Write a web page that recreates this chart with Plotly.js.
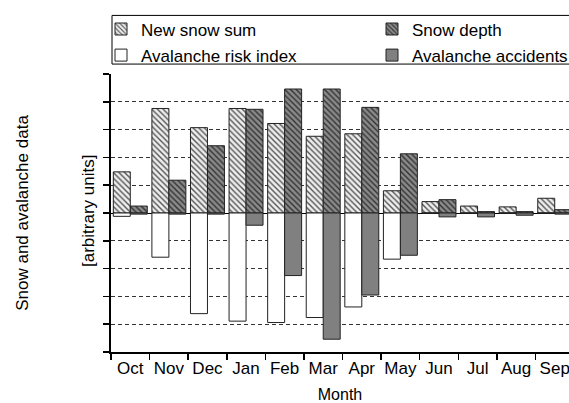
<!DOCTYPE html>
<html>
<head>
<meta charset="utf-8">
<script src="https://cdn.plot.ly/plotly-3.0.1.min.js"></script>
<style>html,body{margin:0;padding:0;background:#fff;overflow:hidden;width:569px;height:403px;}#chart{width:600px;height:403px;}</style>
</head>
<body>
<div id="chart"></div>
<script>
const months = ["Oct","Nov","Dec","Jan","Feb","Mar","Apr","May","Jun","Jul","Aug","Sep"];
const newSnowSum = [1.48, 3.76, 3.07, 3.76, 3.22, 2.76, 2.85, 0.80, 0.41, 0.25, 0.22, 0.53];
const snowDepth = [0.25, 1.18, 2.42, 3.73, 4.46, 4.46, 3.80, 2.13, 0.48, 0.05, 0.05, 0.12];
const riskIndex = [-0.12, -1.59, -3.62, -3.89, -3.94, -3.76, -3.38, -1.66, 0, 0, 0, 0];
const accidents = [-0.04, -0.04, -0.04, -0.44, -2.25, -4.54, -2.95, -1.52, -0.14, -0.14, -0.08, -0.04];
const yTicks = [-5,-4,-3,-2,-1,0,1,2,3,4,5];
const gridVals = [-4,-3,-2,-1,1,2,3,4];

const fam = "Liberation Sans, Arial, sans-serif";
const font = {family: fam, size: 17, color: "#000"};
const W = 0.44;
const line = {color: "#222", width: 1};

const traces = [
  {type: "bar", name: "New snow sum", x: months, y: newSnowSum, width: W, offset: -W,
   marker: {color: "#eeeeee", line: line, pattern: {shape: "\\", fgcolor: "#555", bgcolor: "#eeeeee", size: 4, solidity: 0.35}},
   legend: "legend", legendgroup: "a"},
  {type: "bar", name: "Avalanche risk index", x: months, y: riskIndex, width: W, offset: -W,
   marker: {color: "#ffffff", line: line},
   legend: "legend", legendgroup: "b"},
  {type: "bar", name: "Snow depth", x: months, y: snowDepth, width: W, offset: 0,
   marker: {color: "#8a8a8a", line: line, pattern: {shape: "\\", fgcolor: "#333", bgcolor: "#8a8a8a", size: 4, solidity: 0.35}},
   legend: "legend2", legendgroup: "c"},
  {type: "bar", name: "Avalanche accidents", x: months, y: accidents, width: W, offset: 0,
   marker: {color: "#808080", line: line},
   legend: "legend2", legendgroup: "d"}
];

const FW = 600, FH = 403;
const L = 111, R = FW - 569, T = 72, B = 51;
const pw = FW - L - R, ph = FH - T - B;
const px = v => (v - L) / pw;
const py = v => (FH - B - v) / ph;

const layout = {
  width: FW, height: FH,
  margin: {l: L, r: R, t: T, b: B},
  paper_bgcolor: "#fff", plot_bgcolor: "#fff",
  barmode: "overlay",
  font: font,
  showlegend: true,
  legend: {x: px(101), y: py(9), xanchor: "left", yanchor: "top", orientation: "v",
           traceorder: "grouped", tracegroupgap: 1, bgcolor: "rgba(0,0,0,0)", font: font},
  legend2: {x: px(372), y: py(9), xanchor: "left", yanchor: "top", orientation: "v",
           traceorder: "grouped", tracegroupgap: 1, bgcolor: "rgba(0,0,0,0)", font: font},
  xaxis: {type: "category", range: [-0.5, 11.37], tickson: "boundaries", ticks: "outside", ticklen: 6, tickwidth: 1.5,
          tickangle: 0, tickcolor: "#000", showline: true, linecolor: "#000", linewidth: 2, showgrid: false, zeroline: false,
          tickfont: font, title: {text: "Month", font: {family: fam, size: 16, color: "#000"}, standoff: 14}, fixedrange: true},
  yaxis: {range: [-5, 5], tickmode: "array", tickvals: yTicks, showticklabels: false, ticks: "outside", ticklen: 6,
          tickwidth: 1.5, tickcolor: "#000", showline: true, linecolor: "#000", linewidth: 2,
          showgrid: false, zeroline: true, zerolinecolor: "#000", zerolinewidth: 1,
          minor: {tickmode: "array", tickvals: gridVals, showgrid: true, gridcolor: "#333", griddash: "4px,3px", gridwidth: 1, ticks: ""},
          title: {text: "Snow and avalanche data", font: font, standoff: 70}, fixedrange: true},
  shapes: [
    {type: "rect", xref: "paper", yref: "paper", x0: px(112), x1: px(590), y0: py(62), y1: py(13),
     line: {color: "#000", width: 1}, fillcolor: "rgba(0,0,0,0)", layer: "above"}
  ],
  annotations: [
    {text: "[arbitrary units]", xref: "paper", yref: "paper", x: px(88), y: py(210), textangle: -90,
     showarrow: false, xanchor: "center", yanchor: "middle", font: font}
  ]
};

Plotly.newPlot("chart", traces, layout, {displayModeBar: false, staticPlot: true});
</script>
</body>
</html>
